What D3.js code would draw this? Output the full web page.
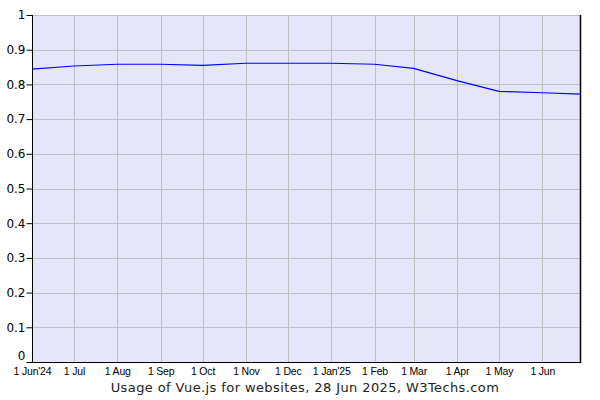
<!DOCTYPE html>
<html>
<head>
<meta charset="utf-8">
<script src="https://cdn.jsdelivr.net/npm/d3@7"></script>
<style>
body{margin:0;background:#fff;}
svg{display:block;}
</style>
</head>
<body>
<svg id="chart" width="600" height="400"></svg>
<script>
const dates = ["2024-06-01","2024-07-01","2024-08-01","2024-09-01","2024-10-01","2024-11-01","2024-12-01","2025-01-01","2025-02-01","2025-03-01","2025-04-01","2025-05-01","2025-06-01","2025-06-28"];
const values = [0.844,0.853,0.858,0.858,0.855,0.861,0.861,0.861,0.858,0.846,0.811,0.780,0.776,0.772];
const xTickDates = ["2024-06-01","2024-07-01","2024-08-01","2024-09-01","2024-10-01","2024-11-01","2024-12-01","2025-01-01","2025-02-01","2025-03-01","2025-04-01","2025-05-01","2025-06-01"];
const xTickLabels = ["1 Jun'24","1 Jul","1 Aug","1 Sep","1 Oct","1 Nov","1 Dec","1 Jan'25","1 Feb","1 Mar","1 Apr","1 May","1 Jun"];
const yTicks = [0,0.1,0.2,0.3,0.4,0.5,0.6,0.7,0.8,0.9,1];
const title = "Usage of Vue.js for websites, 28 Jun 2025, W3Techs.com";

(function(){
const parse = d3.utcParse("%Y-%m-%d");
const data = dates.map((d,i)=>({date:parse(d), v:values[i]}));
const pl=32, pr=580, pt=15, pb=362;
const svg = d3.select("#chart");
const x = d3.scaleUtc().domain([parse("2024-06-01"), parse("2025-06-28")]).range([pl,pr]);
const y = d3.scaleLinear().domain([0,1]).range([pb,pt]);

svg.append("rect").attr("x",pl).attr("y",pt).attr("width",pr-pl).attr("height",pb-pt).attr("fill","#e6e6fa");

// grid
svg.append("g").selectAll("line").data(yTicks.slice(1)).join("line")
  .attr("x1",pl).attr("x2",pr).attr("y1",d=>Math.round(y(d))+0.5).attr("y2",d=>Math.round(y(d))+0.5)
  .attr("stroke","#c0c0c0").attr("stroke-width",1);
svg.append("g").selectAll("line").data(xTickDates.slice(1)).join("line")
  .attr("x1",d=>Math.round(x(parse(d)))+0.5).attr("x2",d=>Math.round(x(parse(d)))+0.5)
  .attr("y1",pt).attr("y2",pb).attr("stroke","#c0c0c0").attr("stroke-width",1);

// line
svg.append("path").datum(data)
  .attr("d", d3.line().x(d=>x(d.date)).y(d=>y(d.v)))
  .attr("fill","none").attr("stroke","#0000ff").attr("stroke-width",1.2);

// axes borders
svg.append("line").attr("x1",pl+0.5).attr("x2",pl+0.5).attr("y1",pt).attr("y2",pb+1).attr("stroke","#000");
svg.append("line").attr("x1",pl).attr("x2",pr+1).attr("y1",pb+0.5).attr("y2",pb+0.5).attr("stroke","#000");
svg.append("line").attr("x1",pr+0.5).attr("x2",pr+0.5).attr("y1",pt).attr("y2",pb+1).attr("stroke","#000").attr("stroke-width",1.5);

// y axis
const yAxis = d3.axisLeft(y).tickValues(yTicks).tickFormat(d3.format("~g")).tickSize(6).tickPadding(1);
const gy = svg.append("g").attr("transform",`translate(${pl+0.5},0)`).call(yAxis);
gy.select(".domain").remove();
gy.selectAll("text").attr("font-family","DejaVu Sans, Verdana, sans-serif").attr("font-size",12).attr("fill","#000");
gy.selectAll("line").attr("stroke","#000");
gy.selectAll(".tick").filter(d=>d===0).select("text").attr("dy","-0.2em");

// x axis
const xAxis = d3.axisBottom(x).tickValues(xTickDates.map(parse)).tickFormat((d,i)=>xTickLabels[i]).tickSize(0).tickPadding(6);
const gx = svg.append("g").attr("transform",`translate(0,${pb})`).call(xAxis);
gx.select(".domain").remove();
gx.selectAll("text").attr("font-family","Liberation Sans, Arial, sans-serif").attr("font-size",10.5).attr("fill","#000").attr("letter-spacing","-0.2px");

svg.append("text").attr("x",305).attr("y",392).attr("text-anchor","middle")
  .attr("font-family","DejaVu Sans, Verdana, sans-serif").attr("font-size",13).attr("letter-spacing","0.4px").attr("fill","#222").text(title);
})();
</script>
</body>
</html>
